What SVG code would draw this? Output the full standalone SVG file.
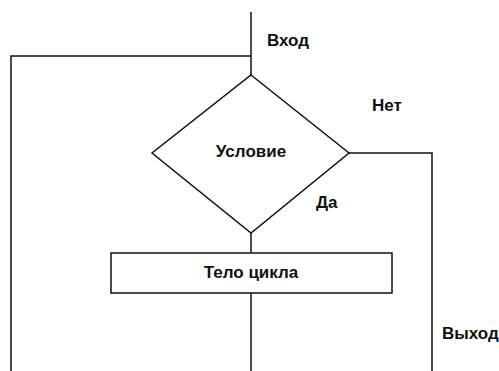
<svg xmlns="http://www.w3.org/2000/svg" width="499" height="371" viewBox="0 0 499 371">
<style>
.ln{fill:none;stroke:#111;stroke-width:1.5}
.sh{fill:#fff;stroke:#111;stroke-width:1.5}
.tx{font-family:"Liberation Sans",Arial,sans-serif;font-weight:bold;font-size:17px;fill:#111}
</style>
<rect width="499" height="371" fill="#fff"/>
<g id="connectors">
<polyline class="ln" points="251,12 251,75"/>
<polyline class="ln" points="251,56 11,56 11,371"/>
<polyline class="ln" points="349,153 432,153 432,371"/>
<polyline class="ln" points="251,233 251,253"/>
<polyline class="ln" points="251,293 251,371"/>
</g>
<g id="condition">
<polygon class="sh" points="251,75 349,153 251,233 152,153"/>
<text class="tx" x="251" y="157" text-anchor="middle">Условие</text>
</g>
<g id="body">
<rect class="sh" x="111" y="253" width="281" height="40"/>
<text class="tx" x="251" y="278" text-anchor="middle">Тело цикла</text>
</g>
<g id="labels">
<text class="tx" x="267" y="46">Вход</text>
<text class="tx" x="372" y="111">Нет</text>
<text class="tx" x="316" y="208">Да</text>
<text class="tx" x="442" y="339">Выход</text>
</g>
</svg>
